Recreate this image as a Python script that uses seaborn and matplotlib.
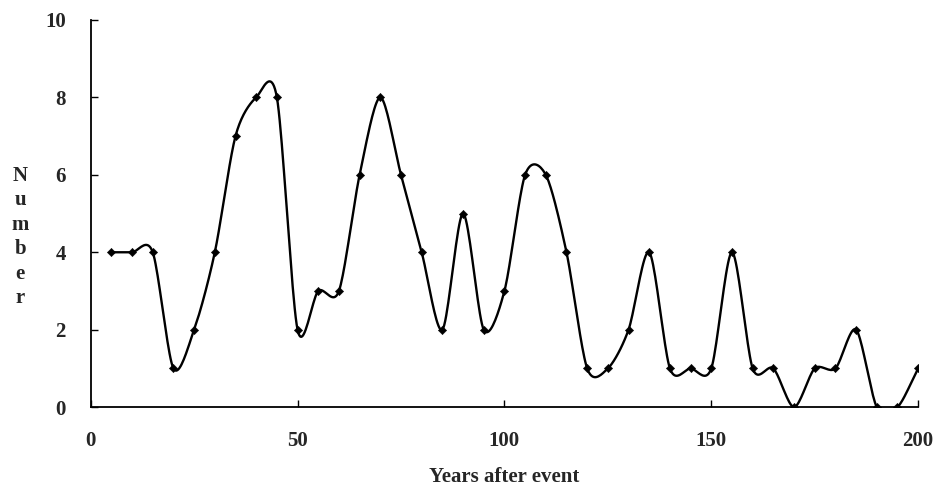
import numpy as np
import pandas as pd
import matplotlib
matplotlib.use("Agg")
import matplotlib.pyplot as plt
import seaborn as sns

years = list(range(5, 205, 5))
counts = [4, 4, 4, 1, 2, 4, 7, 8, 8, 2,
          3, 3, 6, 8, 6, 4, 2, 5, 2, 3,
          6, 6, 4, 1, 1, 2, 4, 1, 1, 1,
          4, 1, 1, 0, 1, 1, 2, 0, 0, 1]
x_ticks = [0, 50, 100, 150, 200]
y_ticks = [0, 2, 4, 6, 8, 10]

sns.set_theme(style="white")
plt.rcParams['font.family'] = ['Liberation Serif', 'DejaVu Serif']
plt.rcParams['font.weight'] = 'bold'

df = pd.DataFrame({"Years": years, "Number": counts})

# Smooth (Bezier) rendering of the line through the data points
def smooth(x, y, n=20, k=1/7):
    x = np.asarray(x, float); y = np.asarray(y, float)
    px = np.concatenate([[2*x[0]-x[1]], x, [2*x[-1]-x[-2]]])
    py = np.concatenate([[2*y[0]-y[1]], y, [2*y[-1]-y[-2]]])
    xs, ys = [], []
    t = np.linspace(0, 1, n, endpoint=False)
    for i in range(1, len(px)-2):
        p0, p1, p2, p3 = [np.array([px[j], py[j]]) for j in (i-1, i, i+1, i+2)]
        c1 = p1 + (p2 - p0) * k
        c2 = p2 - (p3 - p1) * k
        for tt in t:
            b = ((1-tt)**3)*p1 + 3*((1-tt)**2)*tt*c1 + 3*(1-tt)*tt**2*c2 + tt**3*p2
            xs.append(b[0]); ys.append(b[1])
    xs.append(x[-1]); ys.append(y[-1])
    return pd.DataFrame({"Years": xs, "Number": ys})

sm = smooth(years, counts)

fig = plt.figure(figsize=(9.35, 4.87), dpi=100)
ax = fig.add_axes([0.097, 0.164, 0.885, 0.795])
sns.lineplot(data=sm, x="Years", y="Number", ax=ax, color="black", lw=1.7,
             sort=False, estimator=None)
sns.scatterplot(data=df, x="Years", y="Number", ax=ax, color="black",
                marker="D", s=18, edgecolor="black", zorder=3)

ax.set_xlim(0, 200)
ax.set_ylim(0, 10)
ax.set_xticks(x_ticks)
ax.set_yticks(y_ticks)
ax.set_xticklabels([str(v) for v in x_ticks], fontsize=15, fontweight='bold')
ax.set_yticklabels([str(v) for v in y_ticks], fontsize=15, fontweight='bold')
ax.tick_params(axis='both', direction='in', length=5, width=1, color='black',
               bottom=True, left=True)
ax.tick_params(axis='x', pad=17)
ax.tick_params(axis='y', pad=18)
for s in ["top", "right"]:
    ax.spines[s].set_visible(False)
for s in ["left", "bottom"]:
    ax.spines[s].set_color("black")
    ax.spines[s].set_linewidth(1.3)
ax.set_xlabel("Years after event", fontsize=15, fontweight='bold', labelpad=12)
ax.set_ylabel("N\nu\nm\nb\ne\nr", fontsize=15, fontweight='bold', rotation=0,
              labelpad=0, linespacing=1.3, va='center', ha='center')
ax.yaxis.set_label_coords(-0.085, 0.44)

fig.savefig("out.png", dpi=100)
